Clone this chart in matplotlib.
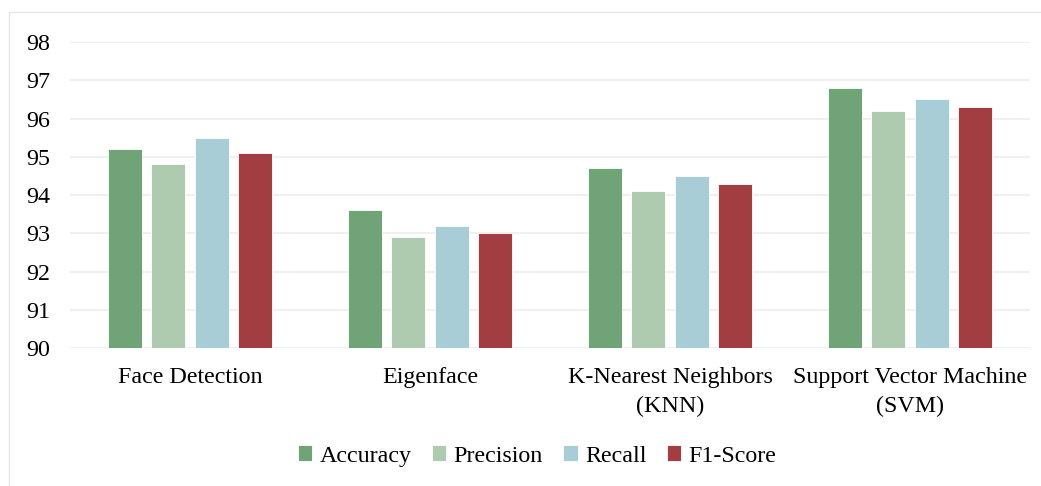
import numpy as np
import matplotlib.pyplot as plt
from matplotlib.patches import Rectangle

plt.rcParams['font.family'] = ['Liberation Serif', 'DejaVu Serif']

# scores (%) for each method
methods = ['Face Detection', 'Eigenface', 'K-Nearest Neighbors\n(KNN)', 'Support Vector Machine\n(SVM)']
metrics = ['Accuracy', 'Precision', 'Recall', 'F1-Score']
accuracy = [95.2, 93.6, 94.7, 96.8]
precision = [94.8, 92.9, 94.1, 96.2]
recall = [95.5, 93.2, 94.5, 96.5]
f1_score = [95.1, 93.0, 94.3, 96.3]
colors = ['#70a375', '#afcbaf', '#a9cdd7', '#a23e42']

fig = plt.figure(figsize=(10.41, 4.86), dpi=100)
ax = fig.add_axes([70 / 1041, 1 - 348 / 486, 960 / 1041, 306 / 486])

# light frame around the chart area
fig.patches.append(Rectangle((9 / 1041, -0.05), 1.1, 1 - 12 / 486 + 0.05,
                             transform=fig.transFigure, fill=False,
                             edgecolor='#e6e6e6', linewidth=1.0))

x = np.arange(len(methods))
w = 0.142
step = 0.181
series = [accuracy, precision, recall, f1_score]
for i, (vals, name) in enumerate(zip(series, metrics)):
    ax.bar(x + (i - 1.5) * step, np.array(vals) - 90, bottom=90, width=w,
           color=colors[i], edgecolor='white', linewidth=0.6, label=name, zorder=3)

ax.set_xlim(-0.5, 3.5)
ax.set_ylim(90, 98)
ax.set_yticks(range(90, 99))
ax.yaxis.grid(True, color='#f0f0f0', linewidth=1.5, zorder=0)
for s in ax.spines.values():
    s.set_visible(False)
ax.tick_params(axis='both', length=0, labelsize=17.3)
ax.tick_params(axis='y', pad=14)
ax.set_xticks(x)
ax.set_xticklabels(methods, linespacing=1.45)
ax.tick_params(axis='x', pad=14)

fig.legend(loc='center', bbox_to_anchor=(537 / 1041, 1 - 456 / 486), ncol=4,
           frameon=False, fontsize=17.3, handlelength=0.6, handleheight=0.6,
           handletextpad=0.3, columnspacing=0.85)

fig.savefig('out.png', dpi=100)
